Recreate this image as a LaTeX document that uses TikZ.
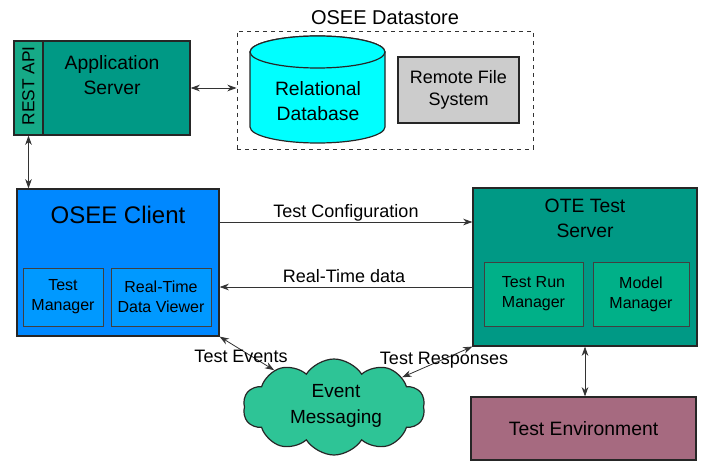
\documentclass[tikz,border=0pt]{standalone}
\usepackage{fontspec}
\setmainfont{Liberation Sans}
\usetikzlibrary{shapes.geometric,shapes.symbols,arrows.meta}
\definecolor{srvteal}{RGB}{0,153,133}
\definecolor{apiteal}{RGB}{22,170,135}
\definecolor{mgrteal}{RGB}{0,176,136}
\definecolor{clientblue}{RGB}{0,136,255}
\definecolor{toolblue}{RGB}{0,153,255}
\definecolor{dbcyan}{RGB}{0,255,255}
\definecolor{cloudgreen}{RGB}{46,196,150}
\definecolor{envmauve}{RGB}{166,106,128}
\newcommand{\bigtxt}{\fontsize{14.5}{18.75}\selectfont}
\newcommand{\midtxt}{\fontsize{13.5}{16}\selectfont}
\newcommand{\smalltxt}{\fontsize{12}{15}\selectfont}
\newcommand{\lbltxt}{\fontsize{13.5}{15}\selectfont}

\begin{document}
\begin{tikzpicture}[x=0.75pt,y=-0.75pt,>={Stealth[length=7pt,width=5pt]}]
  \useasboundingbox (0,0) rectangle (712,474);

  \tikzset{
    blk/.style={draw=black!85, line width=0.9pt, inner sep=0pt},
    inblk/.style={draw=black!75, line width=0.7pt, inner sep=0pt, align=center, font=\smalltxt},
    con/.style={line width=0.6pt, draw=black!80},
  }

  % application server with its rest api
  \node[blk, fill=srvteal, minimum width=132pt, minimum height=70.5pt] (appsrv) at (102,88) {};
  \node[blk, fill=apiteal, minimum width=21.75pt, minimum height=70.5pt] (restapi) at (28.5,88) {};
      \node[rotate=90, font=\fontsize{13}{15}\selectfont] (restapi_t) at (28.5,86) {REST API};
      \node[align=center, font=\bigtxt] (appsrv_t) at (112,75.5) {Application\\Server};

  % datastore
  \node[draw=black!80, dashed, line width=0.6pt, minimum width=222pt, minimum height=88.5pt] (store) at (385,90) {};
      \node[font=\fontsize{15}{18}\selectfont] (store_t) at (385,18) {OSEE Datastore};
  % relational database drawn as a can
  \path[draw=black!85, line width=0.9pt, fill=dbcyan] (250,52) -- (250,127)
      arc[start angle=180, end angle=360, x radius=50.625pt, y radius=12pt] -- (385,52)
      arc[start angle=0, end angle=180, x radius=50.625pt, y radius=12pt] -- cycle;
  \draw[black!85, line width=0.9pt, fill=dbcyan] (317.5,52) ellipse [x radius=50.625pt, y radius=12pt];
      \node[align=center, font=\bigtxt] (reldb_t) at (318,101) {Relational\\Database};
  \node[blk, fill=black!20, align=center, font=\midtxt, minimum width=90.75pt, minimum height=49.5pt] (rfs) at (458.5,90) {Remote File\\System};

  % osee client
  \node[blk, fill=clientblue, minimum width=151.5pt, minimum height=110.25pt] (client) at (118,262.5) {};
      \node[font=\fontsize{18}{21}\selectfont] (client_t) at (118,214.5) {OSEE Client};
  \node[inblk, fill=toolblue, minimum width=60pt, minimum height=43.5pt] (testmgr) at (63,297) {Test\\Manager};
  \node[inblk, fill=toolblue, minimum width=75pt, minimum height=43.5pt] (rtview) at (161,297) {Real-Time\\Data Viewer};

  % ote test server
  \node[blk, fill=srvteal, minimum width=168pt, minimum height=118.5pt] (ote) at (585,267) {};
      \node[align=center, font=\bigtxt] (ote_t) at (585,218.5) {OTE Test\\Server};
  \node[inblk, fill=mgrteal, minimum width=74.25pt, minimum height=48pt] (runmgr) at (533.5,294) {Test Run\\Manager};
  \node[inblk, fill=mgrteal, minimum width=72pt, minimum height=48pt] (modelmgr) at (641,294) {Model\\Manager};

  % event messaging and test environment
  \node[cloud, cloud puffs=10, cloud puff arc=115, aspect=1.9, draw=black!85, line width=0.9pt,
        fill=cloudgreen, minimum width=136.5pt, minimum height=72pt] (evmsg) at (334,407) {};
      \node[align=center, font=\fontsize{14.25}{19.5}\selectfont] (evmsg_t) at (336,406) {Event\\Messaging};
  \node[blk, fill=envmauve, font=\bigtxt, minimum width=168.75pt, minimum height=47.25pt] (testenv) at (583.5,428.5) {Test Environment};

  % connectors
  \draw[con, <->] (appsrv.east) -- (store.west |- appsrv.east);
  \draw[con, <->] (restapi.south) -- (restapi.south |- client.north);
  \draw[con, ->] (client.east |- 0,222) -- (ote.west |- 0,222);
      \node[font=\lbltxt] (cfg_l) at (346,213) {Test Configuration};
  \draw[con, ->] (ote.west |- 0,287) -- (client.east |- 0,287);
      \node[font=\lbltxt] (rt_l) at (344,276) {Real-Time data};
  \draw[con, <->] (client.south east) -- (evmsg);
      \node[font=\lbltxt] (ev_l) at (241,356) {Test Events};
  \draw[con, <->] (ote.south west) -- (evmsg);
      \node[font=\lbltxt] (resp_l) at (444,360) {Test Responses};
  \draw[con, <->] (ote.south) -- (ote.south |- testenv.north);

\end{tikzpicture}
\end{document}
